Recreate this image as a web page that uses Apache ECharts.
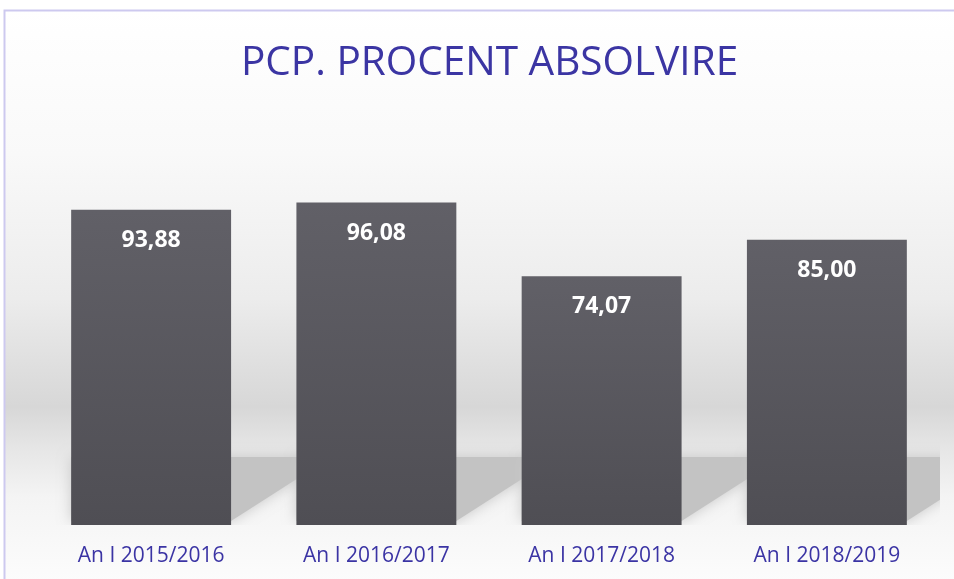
<!DOCTYPE html>
<html>
<head>
<meta charset="utf-8">
<script src="https://cdn.jsdelivr.net/npm/echarts@6/dist/echarts.min.js"></script>
<style>
	html,
	body {
		margin: 0;
		padding: 0;
		background: #ffffff;
	}

	#chart {
		width: 954px;
		height: 579px;
	}
</style>
</head>
<body>
<div id="chart"></div>
<script>
const titleText = "PCP. PROCENT ABSOLVIRE"
const categories = ["An I 2015/2016", "An I 2016/2017", "An I 2017/2018", "An I 2018/2019"]
const values = [93.88, 96.08, 74.07, 85.0]

// soft gray "floor shadow" behind every bar
const renderShadow = (params, api) => {
	const base = api.coord([api.value(0), 0])
	const band = api.size([1, 0])[0]
	const bw = band * 0.71
	const left = base[0] - bw / 2
	const right = base[0] + bw / 2
	const yTop = base[1] - 68
	return {
		type: "polygon",
		shape: {
			points: [
				[left, yTop],
				[right + 100, yTop],
				[right, base[1] - 4],
				[left, base[1] - 4]
			]
		},
		style: {
			fill: "#c3c3c3",
			shadowBlur: 14,
			shadowColor: "#c8c8c8"
		}
	}
}

const chart = echarts.init(document.getElementById("chart"))

chart.setOption({
	animation: false,
	graphic: [
		{
			type: "rect",
			z: -10,
			shape: { x: 4.5, y: 10.5, width: 960, height: 600 },
			style: {
				stroke: "#cdc9ef",
				lineWidth: 2,
				fill: {
					type: "linear",
					x: 0,
					y: 0,
					x2: 0,
					y2: 1,
					colorStops: [
						{ offset: 0, color: "#ffffff" },
						{ offset: 0.24, color: "#f9f9f9" },
						{ offset: 0.48, color: "#ececec" },
						{ offset: 0.66, color: "#d7d7d7" },
						{ offset: 0.73, color: "#e6e6e6" },
						{ offset: 0.81, color: "#f4f4f4" },
						{ offset: 0.95, color: "#fcfcfc" },
						{ offset: 1, color: "#fdfdfd" }
					]
				}
			}
		}
	],
	title: {
		text: titleText,
		left: 236,
		top: 38,
		textStyle: {
			fontFamily: "Open Sans",
			fontSize: 40.5,
			fontWeight: "normal",
			color: "#3b35a3"
		}
	},
	grid: {
		left: 38.5,
		right: 14.5,
		top: 189.3,
		bottom: 54
	},
	xAxis: {
		type: "category",
		data: categories,
		axisLine: { show: false },
		axisTick: { show: false },
		axisLabel: {
			margin: 21,
			fontFamily: "Open Sans",
			fontSize: 21,
			color: "#3b34a4"
		}
	},
	yAxis: {
		type: "value",
		min: 0,
		max: 100,
		show: false,
		splitLine: { show: false }
	},
	series: [
		{
			type: "custom",
			clip: true,
			z: 1,
			renderItem: renderShadow,
			data: values.map((v, i) => [i, v])
		},
		{
			type: "bar",
			z: 2,
			data: values,
			barWidth: "71%",
			itemStyle: {
				color: {
					type: "linear",
					x: 0,
					y: 0,
					x2: 0,
					y2: 1,
					colorStops: [
						{ offset: 0, color: "#616067" },
						{ offset: 1, color: "#4f4e54" }
					]
				}
			},
			label: {
				show: true,
				position: "insideTop",
				distance: 19,
				fontFamily: "Open Sans",
				fontWeight: "bold",
				fontSize: 23,
				color: "#ffffff",
				formatter: p => p.value.toFixed(2).replace(".", ",")
			}
		}
	]
})
</script>
</body>
</html>
